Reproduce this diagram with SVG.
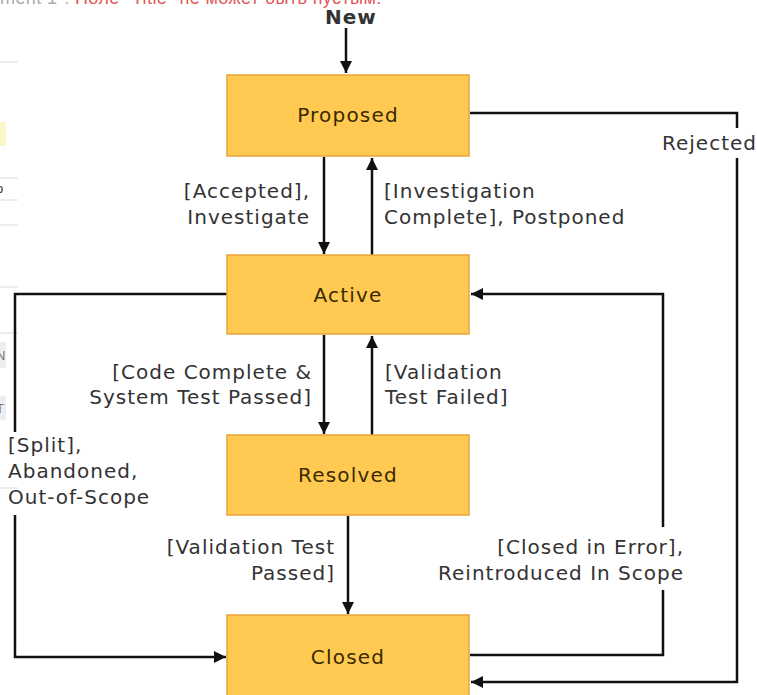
<svg xmlns="http://www.w3.org/2000/svg" width="757" height="695" viewBox="0 0 757 695">
<defs>
<style>
.node rect{fill:#FFC952;stroke:#E9A43C;stroke-width:1.5}
.node text{font-family:"DejaVu Sans",Verdana,sans-serif;font-size:20px;letter-spacing:1.2px;fill:#3a2a00;text-anchor:middle}
.lbl{font-family:"DejaVu Sans",Verdana,sans-serif;font-size:20px;letter-spacing:1px;fill:#333}
.r{text-anchor:end}
.c{fill:none;stroke:#111;stroke-width:2.5}
.junk{stroke:#ddd;stroke-width:1}
</style>
<marker id="ah" viewBox="0 0 10 10" refX="10" refY="5" markerWidth="12" markerHeight="12" markerUnits="userSpaceOnUse" orient="auto"><path d="M0,0 L10,5 L0,10 z" fill="#111"/></marker>
</defs>
<rect width="757" height="695" fill="#fff"/>
<g id="page-residue">
<text x="0" y="4" font-family="Liberation Sans,Arial,sans-serif" font-size="18" letter-spacing="0.4" fill="#aaa">ment 1":<tspan fill="#e05a5a"> Поле "Title" не может быть пустым.</tspan></text>
<line class="junk" x1="0" y1="62" x2="18" y2="62"/>
<rect x="0" y="122" width="6" height="24" fill="#fdf8c8"/>
<line class="junk" x1="0" y1="178" x2="18" y2="178"/>
<text x="-4" y="193" font-family="Liberation Sans,Arial,sans-serif" font-size="13" fill="#333">o</text>
<line class="junk" x1="0" y1="200" x2="18" y2="200"/>
<line class="junk" x1="0" y1="225" x2="18" y2="225"/>
<line class="junk" x1="0" y1="287" x2="18" y2="287"/>
<line class="junk" x1="0" y1="333" x2="18" y2="333"/>
<rect x="0" y="342" width="6" height="26" fill="#eee"/>
<text x="-4" y="360" font-family="Liberation Sans,Arial,sans-serif" font-size="13" fill="#777">N</text>
<rect x="0" y="396" width="6" height="24" fill="#eee"/>
<text x="-4" y="413" font-family="Liberation Sans,Arial,sans-serif" font-size="13" fill="#777">T</text>
<line class="junk" x1="0" y1="488" x2="18" y2="488"/>
</g>
<g id="connectors">
<path class="c" d="M346,28 V73" marker-end="url(#ah)"/>
<path class="c" d="M324,157 V254" marker-end="url(#ah)"/>
<path class="c" d="M372,255 V158" marker-end="url(#ah)"/>
<path class="c" d="M324,335 V434" marker-end="url(#ah)"/>
<path class="c" d="M372,435 V336" marker-end="url(#ah)"/>
<path class="c" d="M348,516 V614" marker-end="url(#ah)"/>
<path class="c" d="M470,113 H737 V128"/>
<path class="c" d="M737,158 V682 H471" marker-end="url(#ah)"/>
<path class="c" d="M470,655 H663 V590"/>
<path class="c" d="M663,527 V294 H471" marker-end="url(#ah)"/>
<path class="c" d="M227,294 H15 V432"/>
<path class="c" d="M15,515 V657 H226" marker-end="url(#ah)"/>
<text class="lbl" x="325" y="24" font-weight="bold" letter-spacing="0" font-size="19" fill="#222">New</text>
<text class="lbl r" x="310" y="198">[Accepted],</text>
<text class="lbl r" x="310" y="224">Investigate</text>
<text class="lbl" x="384" y="198">[Investigation</text>
<text class="lbl" x="384" y="224">Complete], Postponed</text>
<text class="lbl" x="662" y="150">Rejected</text>
<text class="lbl r" x="312" y="379">[Code Complete &amp;</text>
<text class="lbl r" x="312" y="404">System Test Passed]</text>
<text class="lbl" x="385" y="379">[Validation</text>
<text class="lbl" x="385" y="404">Test Failed]</text>
<text class="lbl" x="8" y="452">[Split],</text>
<text class="lbl" x="8" y="478">Abandoned,</text>
<text class="lbl" x="8" y="504">Out-of-Scope</text>
<text class="lbl r" x="335" y="554">[Validation Test</text>
<text class="lbl r" x="335" y="580">Passed]</text>
<text class="lbl r" x="684" y="554">[Closed in Error],</text>
<text class="lbl r" x="684" y="580">Reintroduced In Scope</text>
</g>
<g id="proposed" class="node"><rect x="227" y="75" width="242" height="81"/><text x="348" y="122">Proposed</text></g>
<g id="active" class="node"><rect x="227" y="255" width="242" height="79"/><text x="348" y="302">Active</text></g>
<g id="resolved" class="node"><rect x="227" y="435" width="242" height="80"/><text x="348" y="482">Resolved</text></g>
<g id="closed" class="node"><rect x="227" y="615" width="242" height="82"/><text x="348" y="664">Closed</text></g>
</svg>
